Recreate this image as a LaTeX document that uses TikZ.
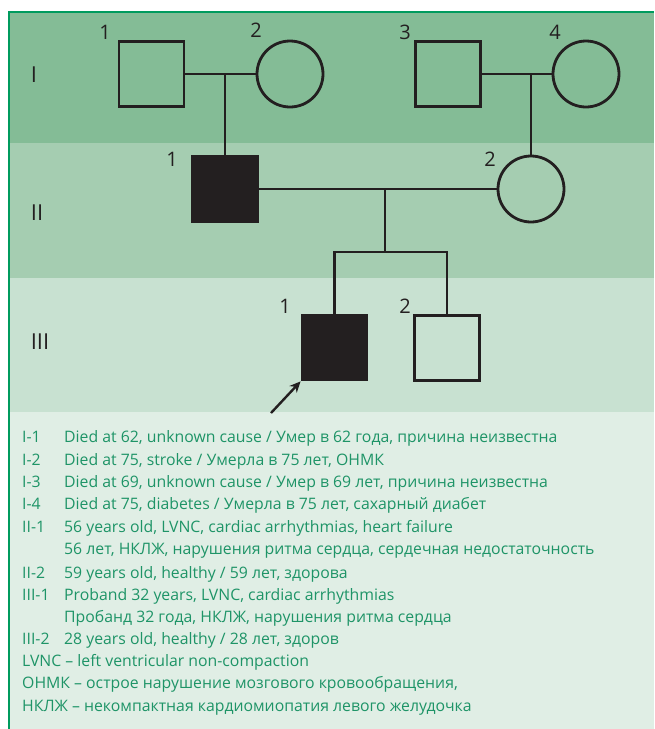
\documentclass[tikz,border=0pt]{standalone}
\usepackage{fontspec}
\setmainfont{Open Sans}
\usetikzlibrary{arrows.meta}
\definecolor{bandI}{HTML}{84BC96}
\definecolor{bandII}{HTML}{A5CDB1}
\definecolor{bandIII}{HTML}{C8E1D1}
\definecolor{legbg}{HTML}{E0EEE5}
\definecolor{frame}{HTML}{009B5E}
\definecolor{txtgreen}{HTML}{1E9467}
\definecolor{ink}{HTML}{231F20}
\tikzset{
  male/.style={draw=ink, rectangle, minimum size=65pt, inner sep=0pt, line width=2.8pt},
  female/.style={draw=ink, circle, minimum size=66pt, inner sep=0pt, line width=2.8pt},
  affected/.style={fill=ink},
  link/.style={draw=ink, line width=2.8pt},
  numlab/.style={inner sep=0pt, text=ink, font=\fontsize{20}{22}\selectfont},
  genlab/.style={inner sep=0pt, text=ink, font=\fontsize{22}{24}\selectfont},
  legtxt/.style={anchor=base west, inner sep=0pt, text=txtgreen, font=\fontsize{15.8}{18}\selectfont}
}
\begin{document}
\begin{tikzpicture}[x=1pt,y=-1pt]
\useasboundingbox (0,0) rectangle (654,729);
% bands
\fill[bandI] (9,12) rectangle (654,143);
\fill[bandII] (9,143) rectangle (654,278);
\fill[bandIII] (9,278) rectangle (654,412);
\fill[legbg] (9,412) rectangle (654,729);
\draw[frame, line width=1.6pt] (9,729) -- (9,12) -- (654,12);
% generation labels
\node[genlab] (gI) at (34,75) {I};
\node[genlab] (gII) at (37,213) {II};
\node[genlab] (gIII) at (40,342) {III};
% individuals
\node[male] (I1) at (151.5,74) {};
\node[female] (I2) at (290,74) {};
\node[male] (I3) at (448,74) {};
\node[female] (I4) at (586,74) {};
\node[male, affected, minimum size=66pt] (II1) at (225,189) {};
\node[female] (II2) at (531,189) {};
\node[male, affected] (III1) at (334.5,347.5) {};
\node[male] (III2) at (447,348) {};
% number labels
\node[numlab] (nI1) at (105,32) {1};
\node[numlab] (nI2) at (256,30) {2};
\node[numlab] (nI3) at (405,32) {3};
\node[numlab] (nI4) at (555,32) {4};
\node[numlab] (nII1) at (172,159) {1};
\node[numlab] (nII2) at (490,159) {2};
\node[numlab] (nIII1) at (285,306) {1};
\node[numlab] (nIII2) at (405,306) {2};
% connectors
\draw[link] (I1.east) -- (I2.west);
\draw[link] (I1.east -| II1.north) -- (II1.north);
\draw[link] (I3.east) -- (I4.west);
\draw[link] (I4.west -| II2.north) -- (II2.north);
\draw[link] (II1.east) -- (II2.west);
\coordinate (mII) at (385,189);
\coordinate (sib) at (385,252);
\draw[link] (mII) -- (sib);
\draw[link] (III1.north) -- (III1.north |- sib) -- (III2.north |- sib) -- (III2.north);
\coordinate (arrtail) at (271,413);
\draw[draw=ink, line width=2.4pt, -{Stealth[length=11pt,width=10pt]}] (arrtail) -- (III1.south west);
% legend
\node[legtxt] (l1) at (22,442.5) {I-1};
\node[legtxt] (t1) at (64,442.5) {Died at 62, unknown cause / Умер в 62 года, причина неизвестна};
\node[legtxt] (l2) at (22,465) {I-2};
\node[legtxt] (t2) at (64,465) {Died at 75, stroke / Умерла в 75 лет, ОНМК};
\node[legtxt] (l3) at (22,487.5) {I-3};
\node[legtxt] (t3) at (64,487.5) {Died at 69, unknown cause / Умер в 69 лет, причина неизвестна};
\node[legtxt] (l4) at (22,509.5) {I-4};
\node[legtxt] (t4) at (64,509.5) {Died at 75, diabetes / Умерла в 75 лет, сахарный диабет};
\node[legtxt] (l5) at (22,532) {II-1};
\node[legtxt] (t5) at (64,532) {56 years old, LVNC, cardiac arrhythmias, heart failure};
\node[legtxt] (t6) at (64,554.5) {56 лет, НКЛЖ, нарушения ритма сердца, сердечная недостаточность};
\node[legtxt] (l7) at (22,578) {II-2};
\node[legtxt] (t7) at (64,578) {59 years old, healthy / 59 лет, здорова};
\node[legtxt] (l8) at (22,600.5) {III-1};
\node[legtxt] (t8) at (64,600.5) {Proband 32 years, LVNC, cardiac arrhythmias};
\node[legtxt] (t9) at (64,622.5) {Пробанд 32 года, НКЛЖ, нарушения ритма сердца};
\node[legtxt] (l10) at (22,644.5) {III-2};
\node[legtxt] (t10) at (64,644.5) {28 years old, healthy / 28 лет, здоров};
\node[legtxt] (t11) at (22,666.5) {LVNC – left ventricular non-compaction};
\node[legtxt] (t12) at (22,688.5) {ОНМК – острое нарушение мозгового кровообращения,};
\node[legtxt] (t13) at (22,711) {НКЛЖ – некомпактная кардиомиопатия левого желудочка};
\end{tikzpicture}
\end{document}
